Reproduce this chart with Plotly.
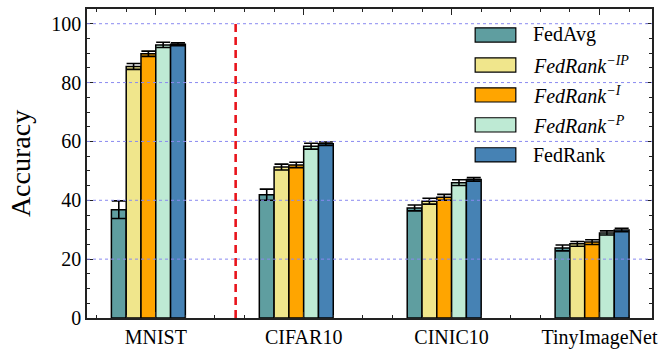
import plotly.graph_objects as go

# --------------------------------------------------
# Data
# --------------------------------------------------
datasets = ["MNIST", "CIFAR10", "CINIC10", "TinyImageNet"]

method_names = ["FedAvg", "FedRank-IP", "FedRank-I", "FedRank-P", "FedRank"]
method_labels = [
    "FedAvg",
    "<i>FedRank</i><sup><i>\u2212IP</i></sup>",
    "<i>FedRank</i><sup><i>\u2212I</i></sup>",
    "<i>FedRank</i><sup><i>\u2212P</i></sup>",
    "FedRank",
]
method_colors = ["#5F9EA0", "#F0E68C", "#FFA500", "#BEEAD4", "#4682B4"]

fedavg = [36.8, 41.9, 37.4, 23.8]
fedavg_err = [3.0, 1.9, 1.0, 1.0]
fedrank_ip = [85.5, 51.3, 39.7, 25.2]
fedrank_ip_err = [1.0, 1.0, 1.0, 0.8]
fedrank_i = [89.8, 52.0, 41.0, 25.8]
fedrank_i_err = [0.9, 0.9, 1.0, 0.8]
fedrank_p = [92.8, 58.4, 46.0, 28.9]
fedrank_p_err = [0.9, 1.0, 1.0, 0.7]
fedrank = [93.0, 59.2, 47.1, 29.9]
fedrank_err = [0.5, 0.6, 0.6, 0.6]

values = [fedavg, fedrank_ip, fedrank_i, fedrank_p, fedrank]
errors = [fedavg_err, fedrank_ip_err, fedrank_i_err, fedrank_p_err, fedrank_err]

y_ticks = [0, 20, 40, 60, 80, 100]
grid_vals = [20, 40, 60, 80, 100]

FONT = "Liberation Serif"
BAR_W = 0.1

# --------------------------------------------------
# Bars
# --------------------------------------------------
fig = go.Figure()

for k, (name, vals, errs, color) in enumerate(
    zip(method_names, values, errors, method_colors)
):
    xs = [i + (k - 2) * BAR_W - 0.05 for i in range(len(datasets))]
    fig.add_trace(
        go.Bar(
            x=xs,
            y=vals,
            width=BAR_W,
            name=name,
            marker=dict(color=color, line=dict(color="black", width=1.5)),
            error_y=dict(
                type="data",
                array=errs,
                visible=True,
                color="black",
                thickness=1.6,
                width=7,
            ),
            showlegend=False,
        )
    )

# --------------------------------------------------
# Dotted grid drawn above the bars, dashed separator
# --------------------------------------------------
for g in grid_vals:
    fig.add_shape(
        type="line", xref="paper", yref="y",
        x0=0, x1=1, y0=g, y1=g,
        line=dict(color="#8A8AF0", width=1, dash="dot"),
        layer="above",
    )

fig.add_shape(
    type="line", xref="x", yref="y",
    x0=0.54, x1=0.54, y0=0, y1=100,
    line=dict(color="#E8141C", width=2.6, dash="8px,5px"),
    layer="above",
)

# --------------------------------------------------
# Legend (drawn by hand to get the wide swatches)
# --------------------------------------------------
leg_x0, leg_x1, leg_tx = 0.687, 0.759, 0.785
leg_top, leg_step, leg_half = 0.916, 0.097, 0.023
for k, (label, color) in enumerate(zip(method_labels, method_colors)):
    yc = leg_top - k * leg_step
    fig.add_shape(
        type="rect", xref="paper", yref="paper",
        x0=leg_x0, x1=leg_x1, y0=yc - leg_half, y1=yc + leg_half,
        fillcolor=color, line=dict(color="black", width=1.2),
        layer="above",
    )
    fig.add_annotation(
        x=leg_tx, y=yc, xref="paper", yref="paper",
        text=label, showarrow=False,
        xanchor="left", yanchor="middle",
        font=dict(family=FONT, size=20, color="black"),
    )

# --------------------------------------------------
# Layout
# --------------------------------------------------
fig.update_layout(
    width=665,
    height=355,
    margin=dict(l=87, r=13, t=9, b=37, autoexpand=False),
    paper_bgcolor="white",
    plot_bgcolor="white",
    font=dict(family=FONT, size=20, color="black"),
    barmode="overlay",
    showlegend=False,
)

fig.update_xaxes(
    range=[-0.465, 3.355],
    automargin=False,
    tickmode="array",
    tickvals=list(range(len(datasets))),
    ticktext=datasets,
    ticks="inside",
    ticklen=6,
    tickwidth=1,
    tickcolor="#222",
    showline=True,
    linecolor="#222",
    linewidth=1.5,
    mirror="ticks",
    showgrid=False,
    zeroline=False,
    tickfont=dict(family=FONT, size=20, color="black"),
    minor=dict(
        tickmode="linear", tick0=0, dtick=0.2,
        ticks="inside", ticklen=3.5, tickwidth=1, tickcolor="#222",
        showgrid=False,
    ),
)

fig.update_yaxes(
    range=[0, 105],
    automargin=False,
    tickmode="array",
    tickvals=y_ticks,
    ticks="inside",
    ticklen=6,
    tickwidth=1,
    tickcolor="#222",
    showline=True,
    linecolor="#222",
    linewidth=1.5,
    mirror="ticks",
    showgrid=False,
    zeroline=False,
    tickfont=dict(family=FONT, size=20, color="black"),
    title=dict(text="Accuracy", font=dict(family=FONT, size=28, color="black"), standoff=12),
    minor=dict(
        tickmode="linear", tick0=0, dtick=5,
        ticks="inside", ticklen=3.5, tickwidth=1, tickcolor="#222",
        showgrid=False,
    ),
)

# the page body has a default 8px margin; drop it so the figure sits at 0,0
fig.write_html(
    "out.html",
    config={"displayModeBar": False},
    post_script="document.body.style.margin='0px';",
)
